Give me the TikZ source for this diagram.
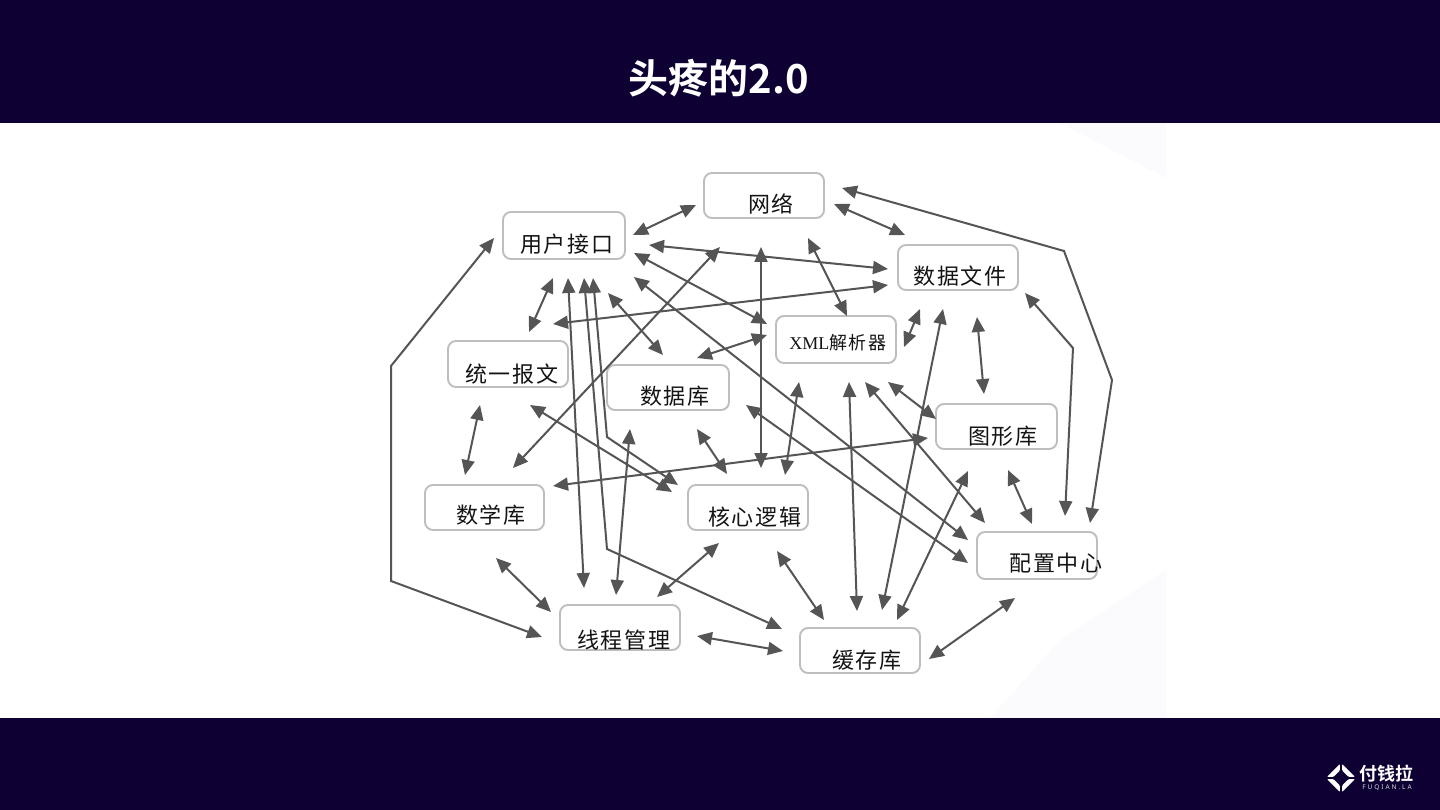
\documentclass[tikz,border=0pt]{standalone}
\usepackage{fontspec}
\setmainfont{Liberation Serif}
\newfontfamily\cjk[LetterSpace=9]{Noto Sans CJK SC}
\newfontfamily\cjkb[BoldFont={Noto Sans CJK SC Bold}]{Noto Sans CJK SC}
\newfontfamily\sanslogo{Noto Sans}
\usetikzlibrary{arrows.meta}
\definecolor{navy}{HTML}{0E0033}
\definecolor{linegray}{HTML}{555555}
\definecolor{boxgray}{HTML}{BEBEBE}
\definecolor{faint}{HTML}{FBFBFD}
\tikzset{
  band/.style={fill=navy,draw=none},
  boxnode/.style={draw=boxgray,line width=1.9pt,rounded corners=8pt,fill=white,inner sep=0pt,outer sep=0pt},
  lab/.style={inner sep=0pt,text=black!92,font=\fontsize{22}{22}\selectfont\cjk},
  conn/.style={draw=linegray,line width=2pt,{Triangle[length=15pt,width=13pt]}-{Triangle[length=15pt,width=13pt]}},
  logopiece/.style={fill=white,rounded corners=0.8pt},
}
\newcommand{\bx}[4]{\node[boxnode,minimum width=#3pt,minimum height=#4pt] (#1) at (#2) {};}
\newcommand{\lk}[3]{\coordinate (#1a) at (#2); \coordinate (#1b) at (#3); \draw[conn] (#1a) -- (#1b);}
\begin{document}
\begin{tikzpicture}[x=1pt,y=-1pt]
\useasboundingbox (0,0) rectangle (1440,810);
\fill[white] (0,0) rectangle (1440,810);
\fill[faint] (1060,123) -- (1166,123) -- (1166,178) -- cycle;
\fill[faint] (990,718) -- (1060,640) -- (1166,570) -- (1166,718) -- cycle;
\fill[band] (0,0) rectangle (1440,123);
\fill[band] (0,718) rectangle (1440,810);
\node[inner sep=0pt,text=white,font=\fontsize{40}{40}\selectfont\cjkb\bfseries] (title) at (719,78) {头疼的2.0};
% logo
\begin{scope}[shift={(1341,778)}]
\fill[logopiece] (-14,-1.2) -- (-1.2,-14) -- (-1.2,-7.5) -- (-7.5,-1.2) -- cycle;
\fill[logopiece] (14,-1.2) -- (1.2,-14) -- (1.2,-7.5) -- (7.5,-1.2) -- cycle;
\fill[logopiece] (-14,1.2) -- (-1.2,14) -- (-1.2,7.5) -- (-7.5,1.2) -- cycle;
\fill[logopiece] (14,1.2) -- (1.2,14) -- (1.2,7.5) -- (7.5,1.2) -- cycle;
\end{scope}
\node[inner sep=0pt,text=white,font=\fontsize{18}{18}\selectfont\cjkb\bfseries] (logotext) at (1386,774) {付钱拉};
\node[inner sep=0pt,text=white!85!navy,font=\fontsize{6.5}{6.5}\selectfont\sanslogo\addfontfeature{LetterSpace=30}] (logosub) at (1387,788) {FUQIAN.LA};
% boxes
\bx{user}{564,235.5}{122}{47}
\bx{net}{764,195.5}{120}{45}
\bx{file}{958,267.5}{120}{45}
\bx{xml}{836,339.5}{120}{47}
\bx{msg}{508,364}{120}{46}
\bx{db}{668,387.5}{122}{45}
\bx{gfx}{996.5,426.5}{121}{45}
\bx{math}{484.5,507.5}{119}{45}
\bx{core}{748,507.5}{120}{45}
\bx{cfg}{1037,555.5}{120}{47}
\bx{thr}{620,627.5}{120}{45}
\bx{cache}{860,650.5}{120}{45}
% labels
\node[lab] (userT) at (567,244) {用户接口};
\node[lab] (netT) at (771,204) {网络};
\node[lab] (fileT) at (960,276) {数据文件};
\node[inner sep=0pt,text=black!92,font=\fontsize{18}{18}\selectfont] (xmlT) at (838,343) {XML{\cjk 解析器}};
\node[lab] (msgT) at (512,374) {统一报文};
\node[lab] (dbT) at (675,396) {数据库};
\node[lab] (gfxT) at (1003,436) {图形库};
\node[lab] (mathT) at (491,515) {数学库};
\node[lab] (coreT) at (755,517) {核心逻辑};
\node[lab] (cfgT) at (1056,563) {配置中心};
\node[lab] (thrT) at (624,640) {线程管理};
\node[lab] (cacheT) at (867,660) {缓存库};
% connectors
\lk{c1}{633,235}{696,205}
\lk{c2}{834,204}{905,235}
\coordinate (p3a) at (842,188); \coordinate (p3b) at (1064,251); \coordinate (p3c) at (1112,380); \coordinate (p3d) at (1090,523);
\draw[conn] (p3a) -- (p3b) -- (p3c) -- (p3d);
\lk{c4}{649,245}{888,269}
\lk{c5}{553,324}{888,285}
\lk{c6}{634,253}{767,324}
\lk{c7}{634,277}{968,540}
\lk{c8}{746,405}{968,563}
\lk{c9}{865,382}{985,523}
\lk{c10}{888,382}{936,419}
\lk{c11}{808,238}{847,316}
\lk{c12}{697,358}{767,335}
\lk{c13}{904,347}{920,309}
\lk{c14}{943,309}{882,610}
\lk{c15}{977,317}{984,394}
\coordinate (p16a) at (1025,293); \coordinate (p16b) at (1073,348); \coordinate (p16c) at (1065,516);
\draw[conn] (p16a) -- (p16b) -- (p16c);
\lk{c17}{799,382}{785,475}
\lk{c18}{849,382}{857,611}
\lk{c19}{968,471}{897,620}
\lk{c20}{1008,470}{1032,524}
\lk{c21}{1015,598}{929,659}
\lk{c22}{777,551}{824,620}
\lk{c23}{697,636}{783,651}
\lk{c24}{568,278}{584,588}
\coordinate (p25a) at (584,278); \coordinate (p25b) at (607,549); \coordinate (p25c) at (782,629);
\draw[conn] (p25a) -- (p25b) -- (p25c);
\coordinate (p26a) at (593,278); \coordinate (p26b) at (607,437); \coordinate (p26c) at (678,485);
\draw[conn] (p26a) -- (p26b) -- (p26c);
\lk{c27}{608,293}{663,355}
\lk{c28}{553,278}{529,332}
\lk{c29}{720,247}{513,468}
\lk{c30}{761,247}{761,468}
\lk{c31}{480,405}{465,475}
\lk{c32}{530,405}{672,492}
\lk{c33}{630,429}{616,595}
\lk{c34}{697,429}{727,474}
\lk{c35}{553,486}{928,438}
\lk{c36}{719,543}{657,597}
\lk{c37}{496,558}{551,612}
\coordinate (p38a) at (494,238); \coordinate (p38b) at (391,366); \coordinate (p38c) at (391,581); \coordinate (p38d) at (542,637);
\draw[conn] (p38a) -- (p38b) -- (p38c) -- (p38d);
\end{tikzpicture}
\end{document}
